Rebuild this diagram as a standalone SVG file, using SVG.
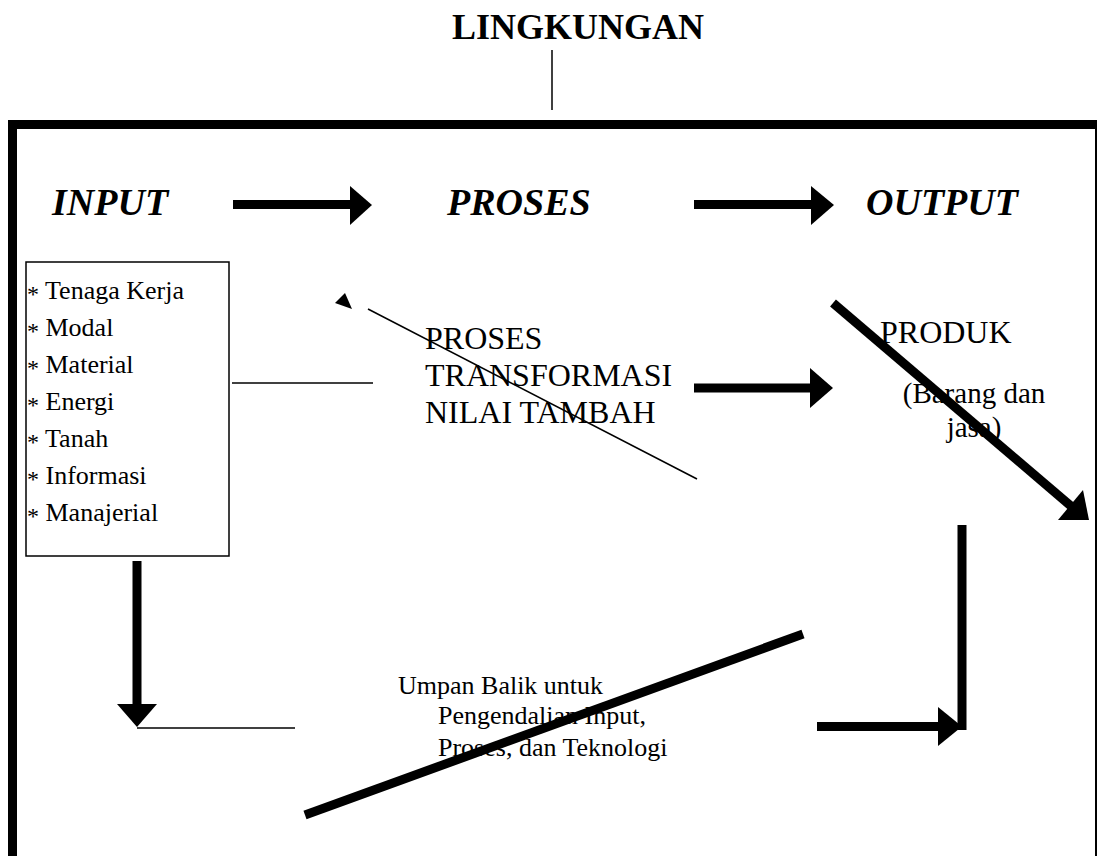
<svg xmlns="http://www.w3.org/2000/svg" width="1097" height="856" viewBox="0 0 1097 856">
<style>
.t{font-family:"Liberation Serif","Times New Roman",serif;fill:#000}
.h{font-weight:bold;font-style:italic;font-size:38px}
.li{font-size:26px}
.ast{font-size:24px}
.thin{stroke:#000;stroke-width:1.5;fill:none}
.thick{stroke:#000;stroke-width:9;fill:none}
.head{fill:#000;stroke:none}
</style>
<rect width="1097" height="856" fill="#fff"/>
<g id="frame">
<rect x="12.5" y="124.5" width="1087" height="760" fill="none" stroke="#000" stroke-width="9"/>
</g>
<g id="lingkungan">
<text class="t" x="452" y="39" font-size="36" font-weight="bold">LINGKUNGAN</text>
</g>
<g id="input">
<text class="t h" x="52" y="215">INPUT</text>
</g>
<g id="proses">
<text class="t h" x="447" y="215">PROSES</text>
</g>
<g id="output">
<text class="t h" x="866" y="215">OUTPUT</text>
</g>
<g id="input-list">
<rect x="26" y="262" width="203" height="294" fill="none" stroke="#000" stroke-width="1.5"/>
<text class="t li" x="27" y="299"><tspan class="ast" dy="3">*</tspan><tspan dy="-3"> Tenaga Kerja</tspan></text>
<text class="t li" x="27" y="336"><tspan class="ast" dy="3">*</tspan><tspan dy="-3"> Modal</tspan></text>
<text class="t li" x="27" y="373"><tspan class="ast" dy="3">*</tspan><tspan dy="-3"> Material</tspan></text>
<text class="t li" x="27" y="410"><tspan class="ast" dy="3">*</tspan><tspan dy="-3"> Energi</tspan></text>
<text class="t li" x="27" y="447"><tspan class="ast" dy="3">*</tspan><tspan dy="-3"> Tanah</tspan></text>
<text class="t li" x="27" y="484"><tspan class="ast" dy="3">*</tspan><tspan dy="-3"> Informasi</tspan></text>
<text class="t li" x="27" y="521"><tspan class="ast" dy="3">*</tspan><tspan dy="-3"> Manajerial</tspan></text>
</g>
<g id="transformasi">
<text class="t" font-size="32" x="425" y="349">PROSES</text>
<text class="t" font-size="32" x="425" y="386">TRANSFORMASI</text>
<text class="t" font-size="32" x="425" y="423">NILAI TAMBAH</text>
</g>
<g id="produk">
<text class="t" font-size="32" x="880" y="343">PRODUK</text>
<text class="t" font-size="29" x="974" y="403" text-anchor="middle">(Barang dan</text>
<text class="t" font-size="29" x="974" y="437" text-anchor="middle">jasa)</text>
</g>
<g id="umpan-balik">
<text class="t li" x="398" y="694">Umpan Balik untuk</text>
<text class="t li" x="438" y="724">Pengendalian Input,</text>
<text class="t li" x="438" y="756">Proses, dan Teknologi</text>
</g>
<g id="connectors">
<line class="thin" x1="552" y1="50" x2="552" y2="110"/>
<line class="thick" x1="233" y1="204.5" x2="351" y2="204.5"/>
<polygon class="head" points="350,186 350,225 372,205"/>
<line class="thick" x1="694" y1="204.5" x2="812" y2="204.5"/>
<polygon class="head" points="811,186 811,225 834,205"/>
<line class="thin" x1="232" y1="383" x2="373" y2="383"/>
<line class="thin" x1="368" y1="309" x2="697" y2="479"/>
<polygon class="head" points="345,293 335,303 352,309"/>
<line class="thick" x1="694" y1="388" x2="811" y2="388" stroke-width="8"/>
<polygon class="head" points="810,368 810,408 833,388"/>
<line class="thick" x1="833" y1="303" x2="1072" y2="507"/>
<polygon class="head" points="1083,490 1058,520 1089,520"/>
<line class="thick" x1="962" y1="525" x2="962" y2="730" stroke-width="8"/>
<line class="thick" x1="817" y1="726.5" x2="940" y2="726.5" stroke-width="8"/>
<polygon class="head" points="938,707 938,746 962,726.5"/>
<line class="thick" x1="305" y1="815" x2="803" y2="634"/>
<line class="thick" x1="137" y1="561" x2="137" y2="705" stroke-width="8"/>
<polygon class="head" points="117,704 157,704 137,727"/>
<line class="thin" x1="137" y1="728" x2="295" y2="728" stroke-width="2"/>
</g>
</svg>
